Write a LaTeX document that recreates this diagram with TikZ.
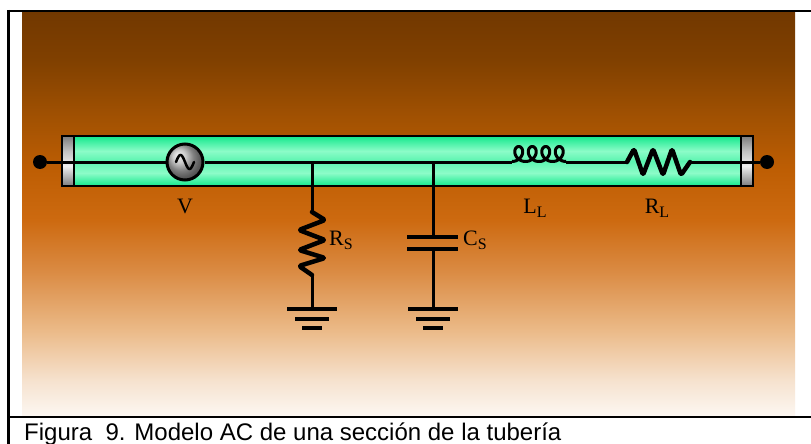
\documentclass[tikz,border=0pt]{standalone}
\usepackage{fontspec}
\setmainfont{Liberation Serif}
\newfontfamily\capfont{Liberation Sans}
\usetikzlibrary{calc}

% backdrop colours, bottom to top
\definecolor{bgA}{RGB}{252,247,242}
\definecolor{bgB}{RGB}{246,226,206}
\definecolor{bgC}{RGB}{235,186,136}
\definecolor{bgD}{RGB}{218,138,66}
\definecolor{bgE}{RGB}{205,106,16}
\definecolor{bgF}{RGB}{190,94,4}
\definecolor{bgG}{RGB}{163,82,2}
\definecolor{bgH}{RGB}{128,64,0}
\definecolor{bgI}{RGB}{114,56,0}
% pipe colours
\definecolor{pipeDark}{RGB}{18,232,140}
\definecolor{pipeLight}{RGB}{140,252,200}
\definecolor{capDark}{RGB}{125,125,125}
\definecolor{capLight}{RGB}{240,240,240}

\pgfdeclareverticalshading{backdrop}{100bp}{%
  color(0bp)=(bgA); color(25bp)=(bgA); color(29.34bp)=(bgB);
  color(35.55bp)=(bgC); color(42.99bp)=(bgD); color(49.19bp)=(bgE);
  color(55.40bp)=(bgF); color(61.60bp)=(bgG); color(69.04bp)=(bgH);
  color(75bp)=(bgI); color(100bp)=(bgI)}
\pgfdeclareverticalshading{pipe}{100bp}{%
  color(0bp)=(pipeDark); color(25bp)=(pipeDark); color(38bp)=(pipeLight);
  color(50bp)=(pipeLight!60!pipeDark); color(60bp)=(pipeLight);
  color(75bp)=(pipeDark); color(100bp)=(pipeDark)}
\pgfdeclareverticalshading{endcap}{100bp}{%
  color(0bp)=(capDark); color(25bp)=(capDark); color(45bp)=(capLight);
  color(60bp)=(capLight!60!capDark); color(75bp)=(capDark); color(100bp)=(capDark)}

\newcommand\lowsub[1]{\raisebox{-4pt}{\fontsize{16}{16}\selectfont #1}}

\tikzset{
  frameline/.style={line width=2.5pt, black},
  wire/.style={line width=3pt, black},
  zigzag/.style={line width=4.5pt, black, line join=round, line cap=round, rounded corners=1.5pt},
  plate/.style={line width=4pt, black},
  groundbar/.style={line width=4pt, black},
  terminal/.style={circle, fill=black, minimum size=14pt, inner sep=0pt},
  source/.style={circle, draw=black, line width=3pt, minimum size=36pt, inner sep=0pt,
                 ball color=gray!55!white},
  lbl/.style={font=\fontsize{22}{24}\selectfont, inner sep=0pt},
}

\begin{document}
\begin{tikzpicture}[x=1pt, y=-1pt]
\useasboundingbox (0,0) rectangle (811,444);

% backdrop and table frame
\fill[white] (0,0) rectangle (811,444);
\shade[shading=backdrop] (22,12) rectangle (795,415.5);
\draw[frameline] (8.5,11) -- (811,11);
\draw[frameline] (8.5,9.8) -- (8.5,444);
\draw[frameline] (8.5,417) -- (811,417);

% the pipe
\shade[shading=pipe] (74,136) rectangle (741,186);
\shade[shading=endcap] (62,136) rectangle (74,186);
\shade[shading=endcap] (741,136) rectangle (753,186);
\draw[line width=2pt] (62,136) rectangle (753,186);
\draw[line width=2pt] (74,136) -- (74,186) (741,136) -- (741,186);

% terminals, source and connection points
\node[terminal] (tA) at (40,162) {};
\node[terminal] (tB) at (767,162) {};
\node[source] (src) at (185,162) {};
\coordinate (Lin) at (512,162);
\coordinate (Lout) at (566,162);
\coordinate (RLin) at (627,162);
\coordinate (RLout) at (690,162);
\coordinate (jS) at (312,162);
\coordinate (jC) at (433,162);
\coordinate (RSin) at (312,212);
\coordinate (RSout) at (312,275);
\coordinate (gS) at (312,309);
\coordinate (CSa) at (433,237);
\coordinate (CSb) at (433,249);
\coordinate (gC) at (433,309);

% series line
\draw[wire] (tA) -- (src);
\draw[wire] (src) -- (Lin);
\draw[wire] (Lout) -- (RLin);
\draw[wire] (RLout) -- (tB);

% sine inside the source
\draw[line width=2.5pt, line cap=round] plot[domain=-9:9, samples=40, smooth]
  ({185+\x}, {162 + 7*sin(\x*20)});

% series inductor L_L
\draw[line width=3pt, line join=round] plot[domain=0:25.1327, samples=260, smooth]
  ({512 + 2.1486*\x + 7*sin(\x r)}, {161.5 - 7.5*(1-cos(\x r))});

% series resistor R_L
\draw[zigzag] (RLin) -- (634,149) -- (643,175) -- (653,149) -- (663,175)
  -- (672,149) -- (681,175) -- (RLout);

% shunt resistor R_S
\draw[wire] (jS) -- (RSin);
\draw[zigzag] (RSin) -- (325,220) -- (299,230) -- (325,240) -- (299,250)
  -- (325,258) -- (299,266) -- (RSout);
\draw[wire] (RSout) -- (gS);

% shunt capacitor C_S
\draw[wire] (jC) -- (CSa);
\draw[plate] (407,237) -- (458,237);
\draw[plate] (407,249) -- (458,249);
\draw[wire] (CSb) -- (gC);

% grounds
\foreach \g in {gS,gC}{
  \draw[groundbar] ($(\g)+(-25,0)$) -- ($(\g)+(25,0)$);
  \draw[groundbar] ($(\g)+(-17,10)$) -- ($(\g)+(17,10)$);
  \draw[groundbar] ($(\g)+(-10,19)$) -- ($(\g)+(10,19)$);
}

% labels
\node[lbl] (lV) at (185,206) {V};
\node[lbl] (lLL) at (535,208) {L\lowsub{L}};
\node[lbl] (lRL) at (657,208) {R\lowsub{L}};
\node[lbl, anchor=west] (lRS) at (329,240) {R\lowsub{S}};
\node[lbl, anchor=west] (lCS) at (463,240) {C\lowsub{S}};

% caption
\node[anchor=base west, inner sep=0pt, font=\capfont\fontsize{24}{26}\selectfont]
  (cap) at (24,440) {Figura~~9. Modelo AC de una sección de la tubería};
\end{tikzpicture}
\end{document}
